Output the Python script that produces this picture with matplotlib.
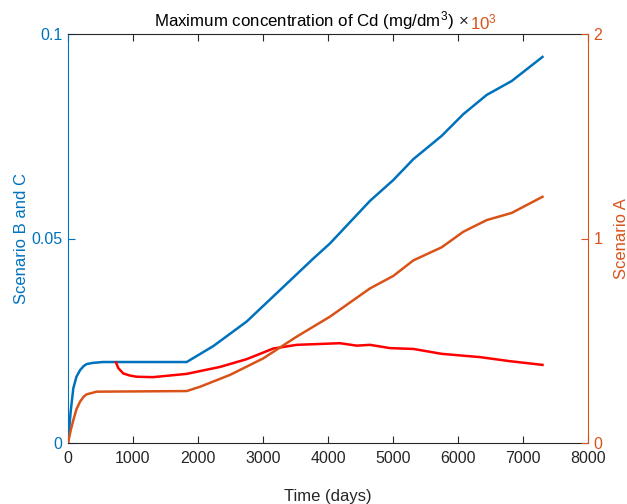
import matplotlib
matplotlib.use('Agg')
import matplotlib.pyplot as plt

plt.rcParams['font.family'] = ['Liberation Sans', 'DejaVu Sans']
plt.rcParams['mathtext.default'] = 'regular'

# scenario B and C (left axis)
t_blue = [0, 40, 82, 130, 185, 240, 287, 390, 538, 1826, 2236, 2749, 3262,
          3774, 4031, 4646, 5005, 5313, 5749, 6082, 6441, 6826, 7300]
blue = [0, 0.0075, 0.0134, 0.0162, 0.0178, 0.0188, 0.0193, 0.0196, 0.0198,
        0.0198, 0.0237, 0.0297, 0.0374, 0.0451, 0.0488, 0.0592, 0.0643,
        0.0694, 0.0751, 0.0804, 0.0851, 0.0885, 0.0944]

t_red = [738, 774, 851, 950, 1056, 1308, 1826, 2338, 2749, 3159, 3518, 4185,
         4441, 4646, 4954, 5313, 5749, 6338, 6800, 7300]
red = [0.0197, 0.0183, 0.0170, 0.0165, 0.0162, 0.0161, 0.0169, 0.0186,
       0.0205, 0.0231, 0.0240, 0.0244, 0.0238, 0.0240, 0.0232, 0.0230,
       0.0218, 0.0210, 0.0200, 0.0191]

# scenario A (right axis, x10^3)
t_orange = [0, 40, 82, 130, 185, 240, 287, 441, 1826, 2031, 2492, 3005, 3518,
            4031, 4646, 5005, 5313, 5749, 6082, 6441, 6826, 7300]
orange = [0, 0.060, 0.112, 0.165, 0.202, 0.226, 0.238, 0.251, 0.254, 0.275,
          0.333, 0.414, 0.520, 0.618, 0.756, 0.817, 0.893, 0.957, 1.033,
          1.090, 1.125, 1.204]

c_blue = '#0072BD'
c_orange = '#D95319'
c_dark = '#262626'

fig = plt.figure(figsize=(6.27, 5.04), dpi=100)
ax = fig.add_axes([68/627, 61/504, 520/627, 409/504])
ax2 = ax.twinx()

ax.plot(t_blue, blue, color=c_blue, lw=1.8)
ax.plot(t_red, red, color='#FF0000', lw=1.8)
ax2.plot(t_orange, orange, color=c_orange, lw=1.8)

ax.set_xlim(0, 8000)
ax.set_ylim(0, 0.1)
ax2.set_ylim(0, 2)
ax.set_xticks(range(0, 8001, 1000))
ax.set_yticks([0, 0.05, 0.1])
ax.set_yticklabels(['0', '0.05', '0.1'])
ax2.set_yticks([0, 1, 2])

ax.tick_params(axis='x', direction='in', top=True, length=5, colors=c_dark,
               labelsize=11.5, pad=6)
ax.tick_params(axis='y', direction='in', length=5, colors=c_blue,
               labelsize=11.5, pad=4)
ax2.tick_params(axis='y', direction='in', length=5, colors=c_orange,
                labelsize=11.5, pad=4)

ax.spines['left'].set_color(c_blue)
ax.spines['right'].set_visible(False)
ax.spines['top'].set_color(c_dark)
ax.spines['bottom'].set_color(c_dark)
ax2.spines['left'].set_visible(False)
ax2.spines['top'].set_visible(False)
ax2.spines['bottom'].set_visible(False)
ax2.spines['right'].set_color(c_orange)

ax.set_xlabel('Time (days)', fontsize=12, color=c_dark, labelpad=16)
ax.set_ylabel('Scenario B and C', fontsize=12, color=c_blue, labelpad=2)
ax2.set_ylabel('Scenario A', fontsize=12, color=c_orange, labelpad=8)

fig.text(154/627, 1 - 26/504, 'Maximum concentration of Cd (mg/dm$^3$)',
         fontsize=12.2, color='black', ha='left', va='baseline')
fig.text(459/627, 1 - 26/504, '\u00d7', fontsize=12.2, color=c_dark,
         ha='left', va='baseline')
fig.text(470/627, 1 - 29/504, '10$^3$', fontsize=12.2, color=c_orange,
         ha='left', va='baseline')

fig.savefig('out.png', dpi=100)
